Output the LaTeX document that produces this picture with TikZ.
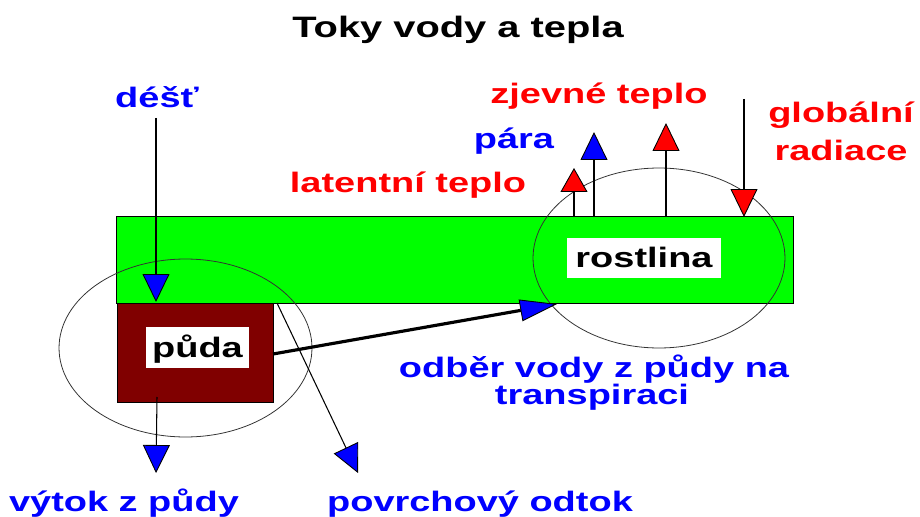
\documentclass[tikz,border=0pt]{standalone}
\usepackage{fontspec}
\setmainfont{Liberation Sans}[FakeStretch=1.35]
\usetikzlibrary{arrows.meta,shapes.geometric}
\definecolor{leafgreen}{RGB}{0,255,0}
\definecolor{soilbrown}{RGB}{128,0,0}
\definecolor{wblue}{RGB}{0,0,255}
\definecolor{hred}{RGB}{255,0,0}
\tikzset{
  lbl/.style={anchor=base,inner sep=0pt,font=\fontsize{16}{19}\selectfont\bfseries},
  flow/.style={line width=0.6pt,draw=black},
  bluehead/.style={-{Triangle[length=0.56cm,width=0.54cm,fill=wblue,line width=0.5pt]}},
  redhead/.style={-{Triangle[length=0.56cm,width=0.54cm,fill=hred,line width=0.5pt]}},
  zone/.style={ellipse,draw=black!80,line width=0.45pt,inner sep=0pt},
  tagbox/.style={fill=white,draw=none,inner sep=0pt}
}
\begin{document}
\begin{tikzpicture}[x=0.02cm,y=-0.02cm]
\useasboundingbox (0,0) rectangle (920,517);
% layers
\node[draw=black,line width=0.5pt,fill=leafgreen,anchor=north west,minimum width=13.54cm,minimum height=1.74cm,inner sep=0pt] (leaf) at (116,216) {};
\node[draw=black,line width=0.5pt,fill=soilbrown,anchor=north west,minimum width=3.12cm,minimum height=1.98cm,inner sep=0pt] (soil) at (117,303) {};
\node[tagbox,minimum width=2.06cm,minimum height=0.82cm] (soilbox) at (197.5,347.5) {};
\node[tagbox,minimum width=3.08cm,minimum height=0.8cm] (plantbox) at (644,258) {};
\node[lbl] (soiltxt) at (197.5,357) {půda};
\node[lbl] (planttxt) at (644,267) {rostlina};
% zones
\node[zone,minimum width=5.06cm,minimum height=3.56cm] (soilzone) at (185.5,348) {};
\node[zone,minimum width=5.04cm,minimum height=3.6cm] (plantzone) at (659,258) {};
% title and labels
\node[anchor=base,inner sep=0pt,font=\fontsize{16.8}{20}\selectfont\bfseries] (title) at (458,38) {Toky vody a tepla};
\node[lbl,text=wblue] (rain) at (157,108) {déšť};
\node[lbl,text=hred] (sens) at (599,104) {zjevné teplo};
\node[lbl,text=wblue] (vap) at (514,149) {pára};
\node[lbl,text=hred] (lat) at (408,193) {latentní teplo};
\node[lbl,text=hred] (glob1) at (841,123) {globální};
\node[lbl,text=hred] (glob2) at (841,160) {radiace};
\node[lbl,text=wblue] (upt1) at (594,377) {odběr vody z půdy na};
\node[lbl,text=wblue] (upt2) at (592,404) {transpiraci};
\node[lbl,text=wblue] (drain) at (124,511) {výtok z půdy};
\node[lbl,text=wblue] (runoff) at (480,511) {povrchový odtok};
% connector ends
\coordinate (rainA) at (156,118);
\coordinate (rainB) at (156,302);
\coordinate (drainA) at (157,397);
\coordinate (drainB) at (156,473);
\coordinate (runA) at (277,303);
\coordinate (runB) at (358,473);
\coordinate (latA) at (574,217);
\coordinate (latB) at (574,168);
\coordinate (vapA) at (594,217);
\coordinate (vapB) at (594,132);
\coordinate (sensA) at (666,217);
\coordinate (sensB) at (666,123);
\coordinate (globA) at (744,99);
\coordinate (globB) at (744,217);
\coordinate (uptA) at (273,354);
\coordinate (uptB) at (557,304);
% flows
\draw[flow,bluehead] (rainA) -- (rainB);
\draw[flow,bluehead] (drainA) -- (drainB);
\draw[flow,bluehead] (runA) -- (runB);
\draw[flow,-{Triangle[length=0.48cm,width=0.54cm,fill=hred,line width=0.5pt]}] (latA) -- (latB);
\draw[flow,bluehead] (vapA) -- (vapB);
\draw[flow,redhead] (sensA) -- (sensB);
\draw[flow,redhead] (globA) -- (globB);
\draw[line width=1.8pt,-{Triangle[length=0.74cm,width=0.44cm,fill=wblue,line width=0.5pt]}] (uptA) -- (uptB);
\end{tikzpicture}
\end{document}
